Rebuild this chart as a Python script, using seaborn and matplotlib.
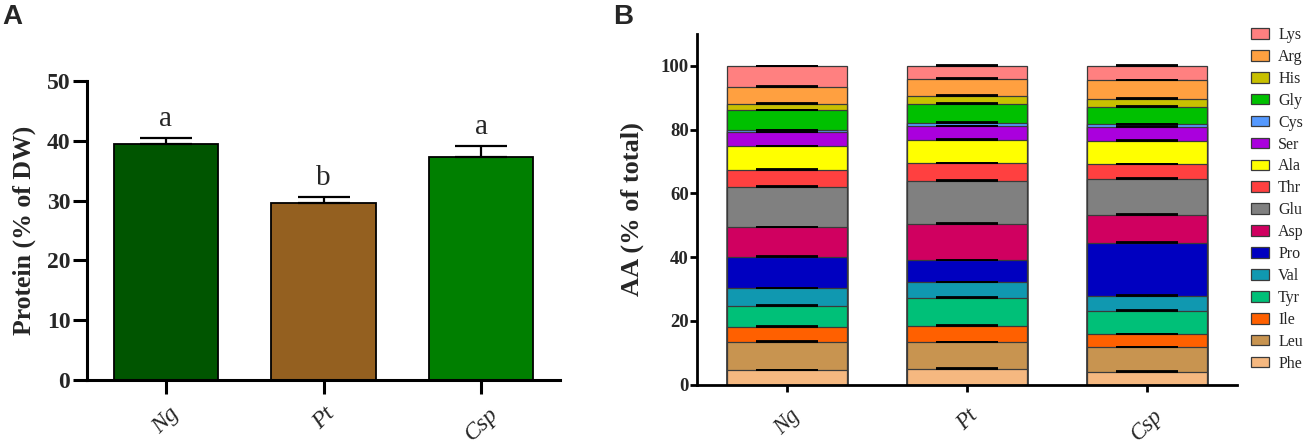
import numpy as np
import pandas as pd
import matplotlib
matplotlib.use("Agg")
import matplotlib.pyplot as plt
import seaborn as sns
from matplotlib.patches import Patch

sns.set_theme(style="white")
plt.rcParams["font.family"] = ["Liberation Serif", "DejaVu Serif"]

# ---------------- data ----------------
species = ["Ng", "Pt", "Csp"]

protein = [39.5, 29.6, 37.3]
protein_err = [0.9, 1.0, 1.9]
protein_letters = ["a", "b", "a"]
protein_colors = ["#005500", "#946020", "#007f00"]

amino_acids = ["Phe", "Leu", "Ile", "Tyr", "Val", "Pro", "Asp", "Glu",
               "Thr", "Ala", "Ser", "Cys", "Gly", "His", "Arg", "Lys"]
aa_ng = [4.4, 8.8, 4.9, 6.6, 5.5, 9.7, 9.4, 12.8, 5.3, 7.3, 4.4, 0.7, 6.3, 1.9, 5.5, 6.5]
aa_pt = [4.9, 8.3, 5.3, 8.6, 5.0, 7.0, 11.3, 13.4, 5.6, 7.2, 4.4, 1.2, 5.8, 2.6, 5.3, 4.1]
aa_csp = [3.9, 7.9, 3.9, 7.3, 4.9, 16.6, 8.7, 11.3, 4.7, 7.2, 4.5, 0.8, 5.5, 2.5, 5.8, 4.5]
err_ng = [0.1, 0.3, 0.3, 0.2, 0.2, 0.3, 0.1, 0.1, 0.3, 0.2, 0.3, 0.1, 0.1, 0.3, 0.3, 0.1]
err_pt = [0.3, 0.1, 0.1, 0.4, 0.1, 0.1, 0.3, 0.3, 0.1, 0.3, 0.1, 0.3, 0.3, 0.3, 0.3, 0.4]
err_csp = [0.3, 0.1, 0.1, 0.3, 0.3, 0.3, 0.3, 0.3, 0.1, 0.3, 0.1, 0.1, 0.3, 0.1, 0.1, 0.3]
aa_colors = ["#F5B880", "#C89450", "#FF6000", "#00C078", "#1098B0", "#0000C0",
             "#D00060", "#808080", "#FF4040", "#FFFF00", "#AA00DD", "#5599FF",
             "#00C000", "#C8C000", "#FFA040", "#FF8080"]

# ---------------- figure ----------------
fig = plt.figure(figsize=(13.08, 4.44), dpi=100)
axA = fig.add_axes([87 / 1308, 64 / 444, 473 / 1308, 299 / 444])
axB = fig.add_axes([697 / 1308, 59.5 / 444, 540 / 1308, 350.5 / 444])

# ---------- Panel A ----------
dfA = pd.DataFrame({"species": species, "protein": protein})
sns.barplot(data=dfA, x="species", y="protein", hue="species", order=species,
            palette=protein_colors, saturation=1, width=0.66, edgecolor="black",
            linewidth=1.3, legend=False, errorbar=None, ax=axA)
axA.errorbar(np.arange(len(species)), protein,
             yerr=[np.zeros(len(species)), protein_err], fmt="none",
             ecolor="black", elinewidth=1.6, capsize=19, capthick=1.6)
for i, (v, e, t) in enumerate(zip(protein, protein_err, protein_letters)):
    axA.text(i, v + e + 2.0, t, ha="center", va="baseline", fontsize=21,
             family="Liberation Serif")
axA.set_xlim(-0.5, 2.5)
axA.set_ylim(0, 50)
axA.set_yticks([0, 10, 20, 30, 40, 50])
axA.set_ylabel("Protein (% of DW)", fontsize=18.5, weight="bold", labelpad=8)
axA.set_xlabel("")
for s in ["top", "right"]:
    axA.spines[s].set_visible(False)
for s in ["left", "bottom"]:
    axA.spines[s].set_linewidth(2.2)
    axA.spines[s].set_color("black")
axA.tick_params(axis="both", which="major", direction="out", length=10,
                width=2.2, color="black", left=True, bottom=True)
axA.tick_params(axis="y", labelsize=17, pad=2)
axA.tick_params(axis="x", labelsize=17.5, pad=7)
for lab in axA.get_yticklabels():
    lab.set_fontweight("bold")
for lab in axA.get_xticklabels():
    lab.set_fontstyle("italic")
    lab.set_rotation(45)
    lab.set_ha("center")

# ---------- Panel B ----------
series = {"Ng": aa_ng, "Pt": aa_pt, "Csp": aa_csp}
errs = {"Ng": err_ng, "Pt": err_pt, "Csp": err_csp}
cum = {k: np.cumsum(v) for k, v in series.items()}
# draw tallest cumulative first so lower segments overlay
for j in range(len(amino_acids) - 1, -1, -1):
    dfB = pd.DataFrame({"species": species,
                        "top": [cum[s][j] for s in species]})
    sns.barplot(data=dfB, x="species", y="top", order=species,
                color=aa_colors[j], saturation=1, width=0.67,
                edgecolor="#3a3a3a", linewidth=0.9, errorbar=None, ax=axB)
for i, s in enumerate(species):
    axB.errorbar(np.full(len(amino_acids), i), cum[s],
                 yerr=[np.zeros(len(amino_acids)), errs[s]], fmt="none",
                 ecolor="black", elinewidth=1.0, capsize=22, capthick=1.3,
                 zorder=5)
axB.set_xlim(-0.5, 2.5)
axB.set_ylim(0, 110)
axB.set_yticks([0, 20, 40, 60, 80, 100])
axB.set_ylabel("AA (% of total)", fontsize=19, weight="bold", labelpad=12)
axB.set_xlabel("")
for s in ["top", "right"]:
    axB.spines[s].set_visible(False)
for s in ["left", "bottom"]:
    axB.spines[s].set_linewidth(2.0)
    axB.spines[s].set_color("black")
axB.tick_params(axis="both", which="major", direction="out", length=5,
                width=2.0, color="black", left=True, bottom=True)
axB.tick_params(axis="y", labelsize=13.5, pad=1)
axB.tick_params(axis="x", labelsize=16.5, pad=10)
for lab in axB.get_yticklabels():
    lab.set_fontweight("bold")
for lab in axB.get_xticklabels():
    lab.set_fontstyle("italic")
    lab.set_rotation(45)
    lab.set_ha("center")

handles = [Patch(facecolor=aa_colors[j], edgecolor="#3a3a3a", linewidth=0.9,
                 label=amino_acids[j])
           for j in range(len(amino_acids) - 1, -1, -1)]
fig.legend(handles=handles, loc="upper left",
           bbox_to_anchor=(1251 / 1308, 1 - 27 / 444), frameon=False,
           fontsize=11.5, handlelength=1.15, handleheight=0.65,
           handletextpad=0.55, labelspacing=0.37, borderpad=0,
           borderaxespad=0)

# panel labels
fig.text(2 / 1308, 1 - 4 / 444, "A", fontsize=20, weight="bold",
         family="Liberation Sans", va="top", ha="left")
fig.text(613 / 1308, 1 - 4 / 444, "B", fontsize=20, weight="bold",
         family="Liberation Sans", va="top", ha="left")

fig.savefig("out.png", dpi=100)
